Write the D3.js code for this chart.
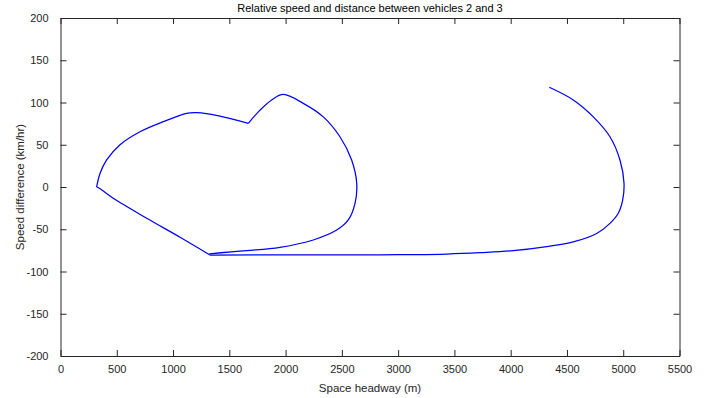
<!DOCTYPE html>
<html>
<head>
<meta charset="utf-8">
<script src="https://cdn.jsdelivr.net/npm/d3@7"></script>
<style>
  body { margin: 0; background: #fff; }
  svg { display: block; font-family: "Liberation Sans", Arial, sans-serif; }
</style>
</head>
<body>
<svg id="chart" width="709" height="398"></svg>
<script>
// ---- data ----
const chartTitle = "Relative speed and distance between vehicles 2 and 3";
const xLabel = "Space headway (m)";
const yLabel = "Speed difference (km/hr)";
const xTicks = [0, 500, 1000, 1500, 2000, 2500, 3000, 3500, 4000, 4500, 5000, 5500];
const yTicks = [-200, -150, -100, -50, 0, 50, 100, 150, 200];

// trajectory: space headway (m)
const headway = [
  4343, 4556, 4734, 4882, 4971, 5007, 4995, 4956, 4882, 4764, 4556, 4320,
  4023, 3727, 3431, 3100, 2839, 2000, 1328,
  1062, 766, 469, 345, 321,
  351, 410, 529, 706, 913, 1121, 1210, 1417, 1669,
  1773, 1876, 1980, 2157, 2335, 2483, 2587, 2632, 2617, 2557, 2454, 2246, 1950, 1654, 1322
];
// trajectory: speed difference (km/hr)
const speedDiff = [
  118, 103, 83, 59.5, 32, 4.4, -15.4, -31, -43, -55, -65, -70.6,
  -75.4, -77.7, -79.3, -80, -80.3, -80.4, -80.5,
  -59.5, -37, -13.4, -1.5, 0,
  16, 32, 50, 65.4, 77.3, 87.2, 88, 84, 75.4,
  91, 103, 109.5, 99, 83, 59.5, 32, 4.4, -19.3, -39, -51, -62.7, -71.4, -75.4, -79
];
// indices where the trajectory turns sharply
const cornerIndex = [18, 23, 32];

// ---- layout ----
const svg = d3.select("#chart");
const L = 60.5, R = 679.5, T = 18, B = 356;
const axisColor = "#262626";
const x = d3.scaleLinear().domain([0, 5500]).range([L, R]);
const y = d3.scaleLinear().domain([-200, 200]).range([B, T]);

const tickLen = 6;
const fontSize = 11;
const fmt = d => String(d);

const xAxisB = d3.axisBottom(x).tickValues(xTicks).tickSizeInner(-tickLen).tickSizeOuter(0).tickPadding(9).tickFormat(fmt);
const gB = svg.append("g").attr("transform", `translate(0,${B})`).call(xAxisB);
const xAxisT = d3.axisTop(x).tickValues(xTicks).tickSizeInner(-tickLen).tickSizeOuter(0).tickFormat("");
const gT = svg.append("g").attr("transform", `translate(0,${T})`).call(xAxisT);
const yAxisL = d3.axisLeft(y).tickValues(yTicks).tickSizeInner(-tickLen).tickSizeOuter(0).tickPadding(12).tickFormat(fmt);
const gL = svg.append("g").attr("transform", `translate(${L},0)`).call(yAxisL);
const yAxisR = d3.axisRight(y).tickValues(yTicks).tickSizeInner(-tickLen).tickSizeOuter(0).tickFormat("");
const gR = svg.append("g").attr("transform", `translate(${R},0)`).call(yAxisR);

[gB, gT, gL, gR].forEach(g => {
  g.selectAll("path.domain").attr("stroke", axisColor).attr("stroke-width", 1);
  g.selectAll(".tick line").attr("stroke", axisColor).attr("stroke-width", 1);
  g.selectAll(".tick text").attr("fill", "#262626").style("font-size", fontSize + "px")
    .style("font-family", "'Liberation Sans', Arial, sans-serif");
});

// trajectory split at corners, each piece smoothed
const pts = headway.map((h, i) => [h, speedDiff[i]]);
const bounds = [0, ...cornerIndex, pts.length - 1];
const line = d3.line().x(d => x(d[0])).y(d => y(d[1])).curve(d3.curveCatmullRom.alpha(0.5));
for (let k = 0; k < bounds.length - 1; k++) {
  svg.append("path")
    .datum(pts.slice(bounds[k], bounds[k + 1] + 1))
    .attr("d", line)
    .attr("fill", "none")
    .attr("stroke", "#0000ff")
    .attr("stroke-width", 1.25)
    .attr("stroke-linejoin", "round");
}

// title and labels
svg.append("text")
  .attr("x", (L + R) / 2).attr("y", 12)
  .attr("text-anchor", "middle")
  .style("font-size", "11px").attr("fill", "#000")
  .text(chartTitle);

svg.append("text")
  .attr("x", (L + R) / 2).attr("y", 392)
  .attr("text-anchor", "middle")
  .style("font-size", "11.5px").attr("fill", "#262626")
  .text(xLabel);

svg.append("text")
  .attr("transform", `translate(24,${(T + B) / 2}) rotate(-90)`)
  .attr("text-anchor", "middle")
  .style("font-size", "11.5px").attr("fill", "#262626")
  .text(yLabel);
</script>
</body>
</html>
